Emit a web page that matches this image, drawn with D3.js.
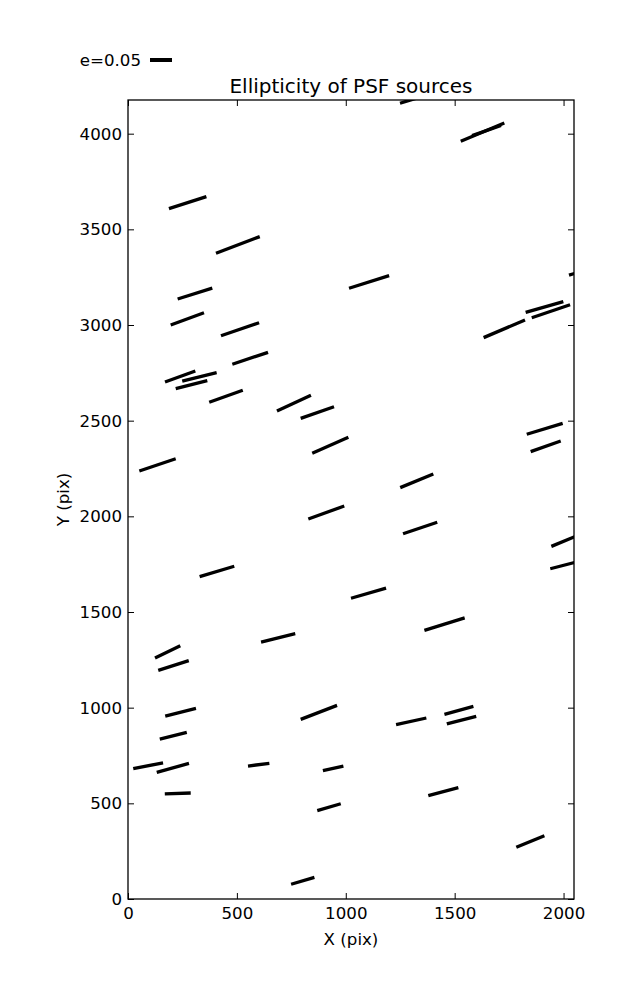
<!DOCTYPE html>
<html>
<head>
<meta charset="utf-8">
<script src="https://cdn.jsdelivr.net/npm/d3@7"></script>
<style>
  html, body { margin: 0; padding: 0; background: #fff; }
  svg { display: block; }
  text { font-family: "DejaVu Sans", sans-serif; fill: #000; }
</style>
</head>
<body>
<div id="chart"></div>
<script>
// ---- data (detector pixel coordinates of each whisker's ends) ----
const xStart = [1249, 1528, 1580, 188, 404, 228, 1015, 2025, 196, 427, 479, 170, 249, 219, 373, 684, 793, 846, 52, 1826, 1854, 1633, 1831, 1849, 1250, 828, 329, 611, 124, 139, 1263, 1944, 1939, 1024, 1361, 171, 793, 1453, 1231, 1464, 146, 24, 132, 551, 895, 169, 1379, 869, 1783, 749];
const yStart = [4159, 3960, 3990, 3608, 3375, 3136, 3192, 3261, 3000, 2944, 2795, 2702, 2707, 2667, 2596, 2551, 2512, 2330, 2237, 3066, 3038, 2934, 2429, 2338, 2150, 1986, 1685, 1343, 1260, 1195, 1909, 1843, 1726, 1572, 1404, 956, 939, 965, 911, 915, 836, 681, 662, 695, 671, 549, 540, 462, 270, 77];
const xEnd   = [1433, 1728, 1713, 360, 605, 387, 1199, 2167, 349, 602, 643, 309, 407, 364, 527, 840, 946, 1012, 219, 1999, 2030, 1823, 1996, 1987, 1402, 993, 488, 768, 240, 279, 1420, 2122, 2122, 1185, 1546, 312, 960, 1586, 1370, 1599, 270, 161, 280, 649, 989, 288, 1517, 977, 1912, 856];
const yEnd   = [4223, 4056, 4043, 3671, 3462, 3193, 3258, 3308, 3064, 3012, 2857, 2760, 2751, 2709, 2659, 2633, 2573, 2413, 2301, 3122, 3106, 3026, 2486, 2394, 2221, 2054, 1739, 1387, 1324, 1246, 1969, 1927, 1780, 1625, 1469, 996, 1012, 1007, 946, 955, 871, 712, 709, 709, 695, 554, 582, 498, 331, 113];

const xTicks = [0, 500, 1000, 1500, 2000];
const yTicks = [0, 500, 1000, 1500, 2000, 2500, 3000, 3500, 4000];
const xDomain = [0, 2048];
const yDomain = [0, 4176];
const legendLabel = "e=0.05";
const titleText = "Ellipticity of PSF sources";
const xLabel = "X (pix)";
const yLabel = "Y (pix)";

// ---- layout ----
const W = 637, H = 1000;
const m = { left: 128, right: 63, top: 100, bottom: 101 };
const iw = W - m.left - m.right, ih = H - m.top - m.bottom;

const svg = d3.select("#chart").append("svg")
  .attr("width", W).attr("height", H);

const x = d3.scaleLinear().domain(xDomain).range([0, iw]);
const y = d3.scaleLinear().domain(yDomain).range([ih, 0]);

const g = svg.append("g").attr("transform", `translate(${m.left},${m.top})`);

g.append("clipPath").attr("id", "clip")
  .append("rect").attr("width", iw).attr("height", ih);

const segs = xStart.map((d, i) => ({ x0: d, y0: yStart[i], x1: xEnd[i], y1: yEnd[i] }));

g.append("g").attr("clip-path", "url(#clip)")
  .selectAll("line").data(segs).join("line")
  .attr("x1", d => x(d.x0)).attr("y1", d => y(d.y0))
  .attr("x2", d => x(d.x1)).attr("y2", d => y(d.y1))
  .attr("stroke", "#000").attr("stroke-width", 3.3).attr("stroke-linecap", "butt");

// axes (ticks inward on all sides)
const tickLen = 6;
const fs = 16.67;
function styleAxis(sel) {
  sel.select(".domain").remove();
  sel.selectAll(".tick line").attr("stroke", "#000").attr("stroke-width", 1);
}
const axB = g.append("g").attr("transform", `translate(0,${ih})`)
  .call(d3.axisBottom(x).tickValues(xTicks).tickFormat(d3.format("d")).tickSizeInner(-tickLen).tickSizeOuter(0).tickPadding(8));
styleAxis(axB);
axB.selectAll("text").attr("font-size", fs).attr("font-family", "DejaVu Sans");

const axT = g.append("g")
  .call(d3.axisTop(x).tickValues(xTicks).tickFormat("").tickSizeInner(-tickLen).tickSizeOuter(0));
styleAxis(axT);

const axL = g.append("g")
  .call(d3.axisLeft(y).tickValues(yTicks).tickFormat(d3.format("d")).tickSizeInner(-tickLen).tickSizeOuter(0).tickPadding(6));
styleAxis(axL);
axL.selectAll("text").attr("font-size", fs).attr("font-family", "DejaVu Sans");

const axR = g.append("g").attr("transform", `translate(${iw},0)`)
  .call(d3.axisRight(y).tickValues(yTicks).tickFormat("").tickSizeInner(-tickLen).tickSizeOuter(0));
styleAxis(axR);

// frame
g.append("rect").attr("width", iw).attr("height", ih)
  .attr("fill", "none").attr("stroke", "#000").attr("stroke-width", 1.3);

// title
svg.append("text").attr("x", m.left + iw / 2).attr("y", m.top - 7)
  .attr("text-anchor", "middle").attr("font-size", 20).text(titleText);

// axis labels
svg.append("text").attr("x", m.left + iw / 2).attr("y", 945)
  .attr("text-anchor", "middle").attr("font-size", fs).text(xLabel);
svg.append("text")
  .attr("transform", `translate(69,${m.top + ih / 2}) rotate(-90)`)
  .attr("text-anchor", "middle").attr("font-size", fs).text(yLabel);

// legend key
svg.append("text").attr("x", 141).attr("y", 66)
  .attr("text-anchor", "end").attr("font-size", fs).text(legendLabel);
svg.append("line").attr("x1", 150).attr("x2", 172).attr("y1", 60).attr("y2", 60)
  .attr("stroke", "#000").attr("stroke-width", 4);
</script>
</body>
</html>
